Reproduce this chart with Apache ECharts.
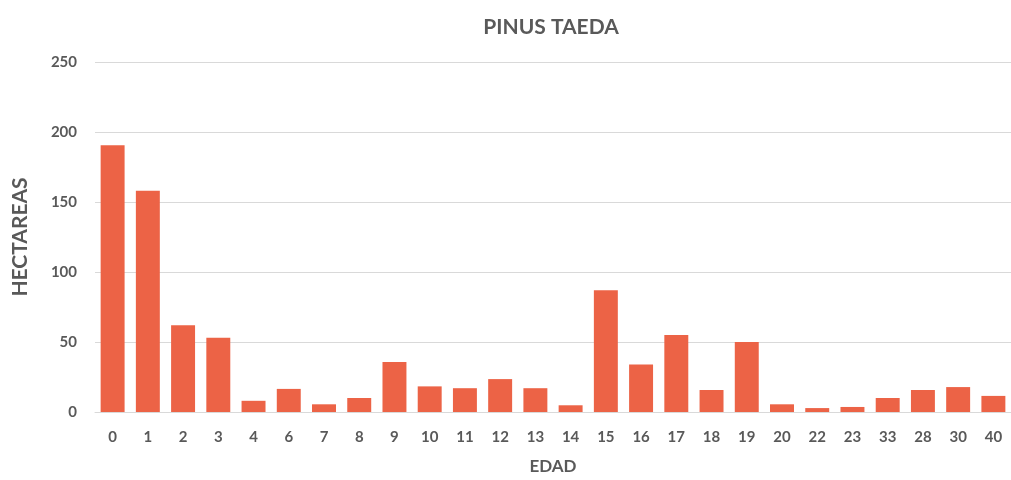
<!DOCTYPE html>
<html>
<head>
<meta charset="utf-8">
<script src="https://cdn.jsdelivr.net/npm/echarts@6/dist/echarts.min.js"></script>
<style>
  html, body { margin: 0; padding: 0; background: #fff; }
  #chart { width: 1011px; height: 480px; }
</style>
</head>
<body>
<div id="chart"></div>
<script>
var edades = ['0', '1', '2', '3', '4', '6', '7', '8', '9', '10', '11', '12', '13', '14', '15', '16', '17', '18', '19', '20', '22', '23', '33', '28', '30', '40'];
var hectareas = [190.5, 158, 62, 53, 8, 16.5, 5.5, 10, 35.7, 18.3, 17, 23.5, 17, 4.8, 87, 34, 55, 15.7, 50, 5.5, 2.8, 3.6, 10, 15.7, 17.8, 11.5];
var yTicks = [0, 50, 100, 150, 200, 250];

var fuente = 'Lato, "Open Sans", sans-serif';
var gris = '#595959';

var chart = echarts.init(document.getElementById('chart'));
chart.setOption({
  animation: false,
  title: {
    text: 'PINUS TAEDA',
    left: 546,
    top: 12,
    textAlign: 'center',
    textStyle: { color: gris, fontSize: 21, fontWeight: 'bold', fontFamily: fuente }
  },
  grid: { left: 95, right: 0, top: 62, bottom: 64 },
  xAxis: {
    type: 'category',
    data: edades,
    name: 'EDAD',
    nameLocation: 'middle',
    nameGap: 46,
    nameTextStyle: { color: gris, fontSize: 17, fontWeight: 'bold', fontFamily: fuente },
    axisLine: { lineStyle: { color: '#d9d9d9', width: 1 } },
    axisTick: { show: false },
    axisLabel: { color: gris, fontSize: 15, fontWeight: 'bold', fontFamily: fuente, margin: 18, interval: 0 }
  },
  yAxis: {
    type: 'value',
    min: yTicks[0],
    max: yTicks[yTicks.length - 1],
    interval: 50,
    name: 'HECTAREAS',
    nameLocation: 'middle',
    nameGap: 64,
    nameTextStyle: { color: gris, fontSize: 21, fontWeight: 'bold', fontFamily: fuente },
    axisLine: { show: false },
    axisTick: { show: false },
    axisLabel: { color: gris, fontSize: 15, fontWeight: 'bold', fontFamily: fuente, margin: 18 },
    splitLine: { lineStyle: { color: '#d9d9d9', width: 1 } }
  },
  series: [
    {
      name: 'HECTAREAS',
      type: 'bar',
      data: hectareas,
      barCategoryGap: '32%',
      itemStyle: { color: '#ec6346' }
    }
  ]
});
</script>
</body>
</html>
